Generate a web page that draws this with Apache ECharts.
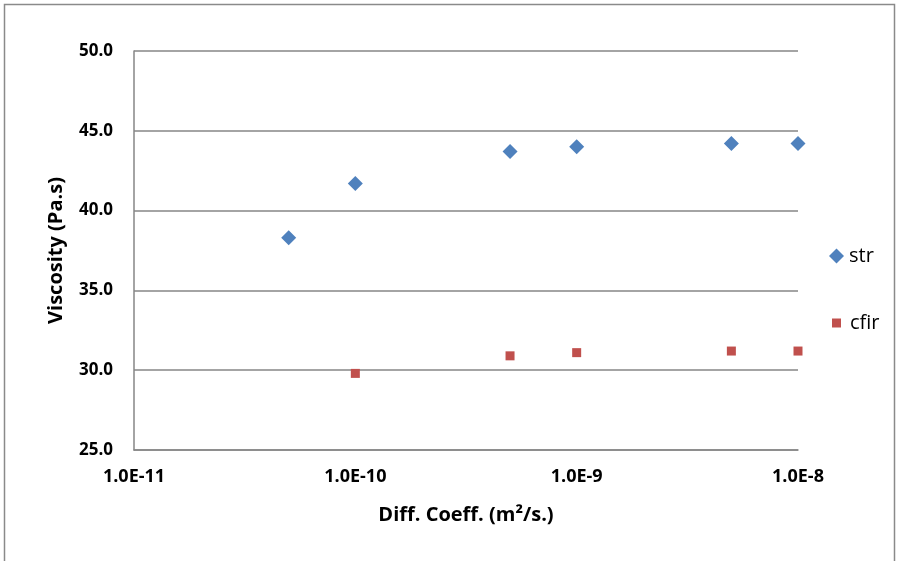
<!DOCTYPE html>
<html>
<head>
<meta charset="utf-8">
<script src="https://cdn.jsdelivr.net/npm/echarts@6/dist/echarts.min.js"></script>
<style>
  html, body { margin: 0; padding: 0; background: #fff; }
  #main { width: 899px; height: 561px; }
</style>
</head>
<body>
<div id="main"></div>
<script>
// diffusion coefficients (m2/s) and viscosities
const diffStr = [5e-11, 1e-10, 5e-10, 1e-9, 5e-9, 1e-8]
const viscStr = [38.3, 41.7, 43.7, 44.0, 44.2, 44.2]
const diffCfir = [1e-10, 5e-10, 1e-9, 5e-9, 1e-8]
const viscCfir = [29.8, 30.9, 31.1, 31.2, 31.2]
const yTicks = [25, 30, 35, 40, 45, 50]

const font = 'Open Sans, Liberation Sans, sans-serif'
const gray = '#868686'

var myChart = echarts.init(document.getElementById('main'))

var option = {
  animation: false,
  textStyle: { fontFamily: font },
  graphic: [
    {
      type: 'rect',
      shape: { x: 4.5, y: 4.5, width: 890, height: 600 },
      style: { fill: 'none', stroke: '#8a8a8a', lineWidth: 1.5 },
      silent: true
    }
  ],
  grid: {
    left: 134,
    right: 101,
    top: 51,
    bottom: 111
  },
  legend: [
    {
      orient: 'vertical',
      left: 824,
      top: 241,
      itemWidth: 15,
      itemHeight: 15,
      textStyle: { fontSize: 20, color: '#000', fontFamily: font },
      data: [{ name: 'str', icon: 'diamond' }]
    },
    {
      orient: 'vertical',
      left: 827,
      top: 308,
      itemWidth: 9,
      itemHeight: 9,
      textStyle: { fontSize: 20, color: '#000', fontFamily: font, padding: [0, 0, 0, 4] },
      data: [{ name: 'cfir', icon: 'rect' }]
    }
  ],
  xAxis: {
    type: 'log',
    logBase: 10,
    min: 1e-11,
    max: 1e-8,
    splitNumber: 3,
    name: 'Diff. Coeff. (m²/s.)',
    nameLocation: 'middle',
    nameGap: 55,
    nameTextStyle: { fontSize: 20, fontWeight: 'bold', color: '#000', fontFamily: font },
    axisLine: { show: true, lineStyle: { color: gray, width: 1.5 } },
    axisTick: { show: false },
    splitLine: { show: false },
    minorTick: { show: false },
    axisLabel: {
      fontSize: 18,
      fontWeight: 'bold',
      color: '#000',
      margin: 18,
      formatter: function (v) {
        return Number(v).toExponential(1).toUpperCase()
      }
    }
  },
  yAxis: {
    type: 'value',
    min: yTicks[0],
    max: yTicks[yTicks.length - 1],
    interval: 5,
    name: 'Viscosity (Pa.s)',
    nameLocation: 'middle',
    nameGap: 68,
    nameTextStyle: { fontSize: 20, fontWeight: 'bold', color: '#000', fontFamily: font },
    axisLine: { show: true, lineStyle: { color: gray, width: 1.5 } },
    axisTick: { show: false },
    splitLine: { show: true, lineStyle: { color: gray, width: 1.5 } },
    axisLabel: {
      fontSize: 17,
      fontWeight: 'bold',
      color: '#000',
      margin: 21,
      formatter: function (v) {
        return v.toFixed(1)
      }
    }
  },
  series: [
    {
      name: 'str',
      type: 'scatter',
      symbol: 'diamond',
      symbolSize: 15,
      itemStyle: { color: '#4F81BD', opacity: 1 },
      data: diffStr.map((d, i) => [d, viscStr[i]])
    },
    {
      name: 'cfir',
      type: 'scatter',
      symbol: 'rect',
      symbolSize: 9,
      itemStyle: { color: '#C0504D', opacity: 1 },
      data: diffCfir.map((d, i) => [d, viscCfir[i]])
    }
  ]
}

myChart.setOption(option)
</script>
</body>
</html>
